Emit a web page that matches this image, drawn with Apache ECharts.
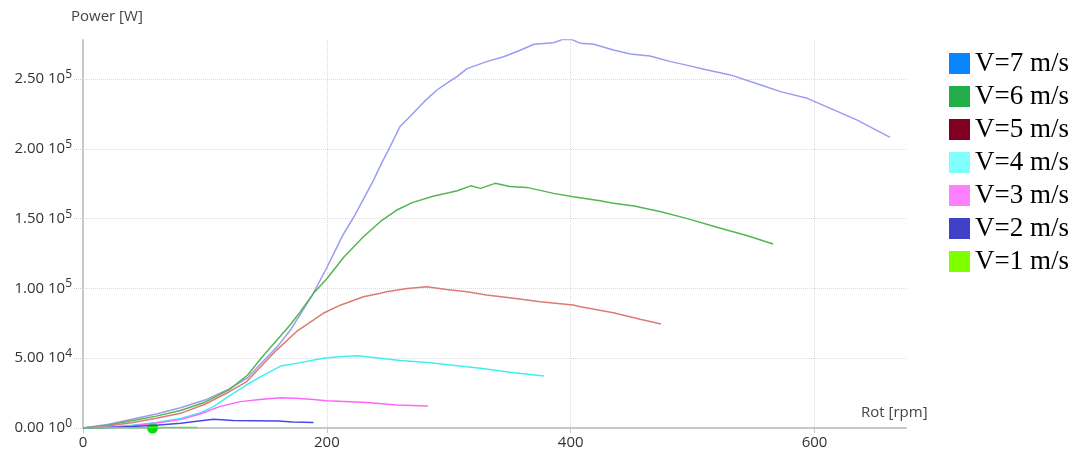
<!DOCTYPE html>
<html><head><meta charset="utf-8">
<script src="https://cdn.jsdelivr.net/npm/echarts@6/dist/echarts.min.js"></script>
<style>html,body{margin:0;padding:0;background:#fff}#c{width:1081px;height:456px}</style>
</head><body><div id="c"></div>
<script>
const seriesNames = ['V=7 m/s','V=6 m/s','V=5 m/s','V=4 m/s','V=3 m/s','V=2 m/s','V=1 m/s'];
const xTicks = [0, 200, 400, 600];
const yTicks = [0, 50000, 100000, 150000, 200000, 250000];
const v7 = [[0,0],[20,2500],[40,6200],[60,10000],[80,14500],[100,20000],[120,28000],[135,36000],[148,48000],[160,59000],[170,70000],[180,84000],[188,95000],[200,115000],[213,138000],[222,151000],[230,164000],[238,177000],[245,190000],[251,200000],[260,216000],[268,223000],[280,234000],[290,242000],[300,248000],[307,252000],[315,257500],[331,262500],[345,266000],[358,270500],[370,275000],[386,276000],[393,278300],[401,278300],[408,275600],[419,275000],[435,270800],[449,268000],[465,266500],[482,262500],[495,260000],[512,256500],[531,253000],[556,245700],[572,241000],[594,236200],[613,229000],[635,220600],[662,208200]];
const v6 = [[0,0],[20,2000],[40,5200],[60,8500],[80,12500],[100,18500],[120,27500],[135,38000],[148,52000],[160,64000],[170,74000],[178,83000],[189,96500],[200,107000],[214,122500],[230,137000],[244,148000],[257,156000],[270,161500],[287,166000],[300,168500],[307,170000],[318,173500],[326,171700],[338,175300],[350,173000],[364,172400],[386,168100],[402,165700],[424,162800],[435,161000],[452,159000],[474,155000],[495,150200],[520,143800],[545,137800],[566,131800]];
const v5 = [[0,0],[20,1500],[40,3800],[60,7000],[80,10500],[100,17000],[120,26000],[134,33000],[148,46000],[159,56000],[175,69000],[197,82200],[211,88000],[230,94000],[244,96500],[249,97600],[266,100000],[282,101200],[298,99300],[315,97600],[331,95300],[353,92900],[375,90500],[402,88100],[408,86900],[435,82600],[457,77900],[474,74500]];
const v4 = [[0,0],[20,500],[40,2000],[60,4000],[80,6900],[95,10500],[107,15300],[120,23000],[134,30800],[145,36500],[156,41500],[162,44400],[175,46300],[197,49900],[210,51000],[225,51800],[244,49900],[260,48300],[285,46800],[305,44800],[326,42800],[350,40000],[378,37200]];
const v3 = [[0,0],[20,400],[40,1500],[60,3500],[80,6000],[96,10000],[112,15300],[129,18900],[145,20500],[162,21700],[175,21300],[189,20500],[200,19600],[233,18200],[257,16500],[283,15800]];
const v2 = [[0,0],[20,300],[40,1000],[60,2000],[80,3400],[95,5000],[107,6200],[123,5400],[140,5200],[160,5000],[172,4300],[189,4000]];
const v1 = [[0,0],[20,100],[40,200],[57,300],[75,300],[94,300]];
const v1Marker = [57, 0];

const allData = [v7, v6, v5, v4, v3, v2, v1];
const lineColors = ['#9a9cf2','#52b752','#dd7b73','#40f0f0','#ff66ff','#4848e8','#55dd55'];
const legendColors = ['#0a84ff','#22ad4b','#7f0020','#80ffff','#ff80ff','#4040c8','#80ff00'];

const series = allData.map((d, i) => ({
  name: seriesNames[i],
  type: 'line',
  data: d,
  showSymbol: false,
  symbol: 'none',
  lineStyle: { color: lineColors[i], width: 1.5 },
  itemStyle: { color: legendColors[i] },
  z: 2 + i
}));
series[6].markPoint = {
  symbol: 'circle', symbolSize: 11,
  itemStyle: { color: '#00e000' },
  label: { show: false },
  data: [{ coord: v1Marker }]
};

const chart = echarts.init(document.getElementById('c'), null, { renderer: 'canvas' });
chart.setOption({
  animation: false,
  backgroundColor: '#fff',
  grid: { left: 83, right: 175, top: 40, bottom: 28, containLabel: false },
  legend: {
    orient: 'vertical', left: 949, top: 50, padding: 0,
    itemWidth: 21, itemHeight: 21, itemGap: 6, icon: 'rect',
    itemStyle: { borderWidth: 0 },
    textStyle: { fontFamily: 'Liberation Serif', fontSize: 27, color: '#000' },
    data: seriesNames
  },
  xAxis: {
    type: 'value', min: 0, max: 675, interval: 200,
    name: 'Rot [rpm]', nameLocation: 'end', nameGap: -45,
    nameTextStyle: { fontFamily: 'Open Sans', fontSize: 15, color: '#444', align: 'left', verticalAlign: 'bottom', padding: [0,0,8,0] },
    axisLine: { show: true, lineStyle: { color: '#c8c8c8', width: 2 } },
    axisTick: { show: true, length: 5, customValues: xTicks, lineStyle: { color: '#c8c8c8' } },
    axisLabel: { customValues: xTicks, fontFamily: 'Open Sans', fontSize: 15, color: '#333', margin: 7 },
    splitLine: { show: true, lineStyle: { color: '#dadada', type: 'dotted', width: 1 } }
  },
  yAxis: {
    type: 'value', min: 0, max: 278000, interval: 50000,
    name: 'Power [W]', nameLocation: 'end', nameGap: 23,
    nameTextStyle: { fontFamily: 'Open Sans', fontSize: 15, color: '#444', align: 'left', verticalAlign: 'middle', padding: [0,0,0,-12] },
    axisLine: { show: true, lineStyle: { color: '#c8c8c8', width: 2 } },
    axisTick: { show: true, length: 9, customValues: yTicks, lineStyle: { color: '#cccccc', type: 'dotted' } },
    axisLabel: {
      customValues: yTicks, margin: 11,
      formatter: v => {
        if (v === 0) return '{a|0.00 10}{b|0}';
        const e = Math.floor(Math.log10(v));
        const m = v / Math.pow(10, e);
        return '{a|' + m.toFixed(2) + ' 10}{b|' + e + '}';
      },
      rich: {
        a: { fontFamily: 'Open Sans', fontSize: 15, color: '#333', lineHeight: 20 },
        b: { fontFamily: 'Open Sans', fontSize: 12, color: '#333', lineHeight: 12, padding: [0,0,9,0] }
      }
    },
    splitLine: { show: true, lineStyle: { color: '#dadada', type: 'dotted', width: 1 } }
  },
  series: series
});
</script></body></html>
